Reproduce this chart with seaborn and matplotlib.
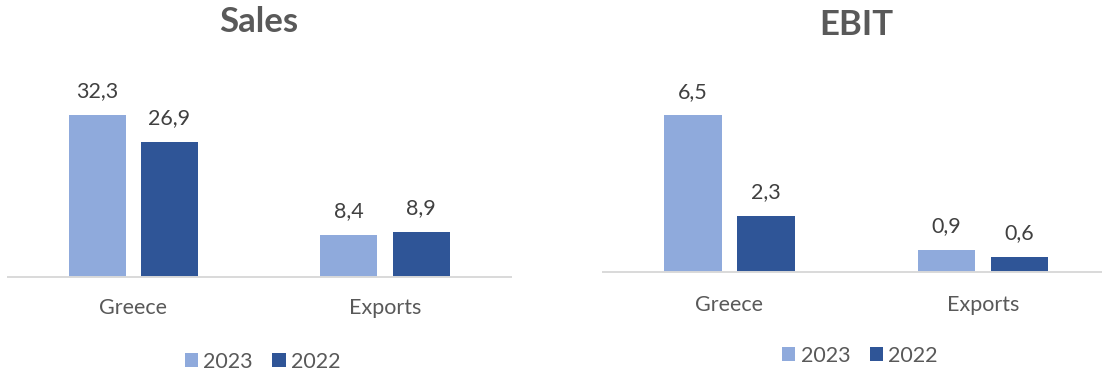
import matplotlib
matplotlib.use("Agg")
import matplotlib.pyplot as plt
import seaborn as sns
import pandas as pd

# ---- data ----
categories = ["Greece", "Exports"]
years = ["2023", "2022"]
sales_2023 = [32.3, 8.4]
sales_2022 = [26.9, 8.9]
ebit_2023 = [6.5, 0.9]
ebit_2022 = [2.3, 0.6]
titles = ["Sales", "EBIT"]

LIGHT = "#8FAADC"
DARK = "#2F5597"
TXT = "#595959"
LBL = "#404040"

sns.set_theme(style="white")
plt.rcParams["font.family"] = ["Lato", "DejaVu Sans"]

W, H = 1102, 373
fig = plt.figure(figsize=(W / 100, H / 100), dpi=100)


def make_df(v23, v22):
    rows = []
    for c, a, b in zip(categories, v23, v22):
        rows.append({"cat": c, "year": years[0], "val": a})
        rows.append({"cat": c, "year": years[1], "val": b})
    return pd.DataFrame(rows)


def panel(rect_px, ymax, v23, v22, title, title_xy, legend_xy, tick_pad):
    x0, x1, base, top = rect_px
    ax = fig.add_axes([x0 / W, (H - base) / H, (x1 - x0) / W, (base - top) / H])
    df = make_df(v23, v22)
    sns.barplot(data=df, x="cat", y="val", hue="year", order=categories,
                hue_order=years, palette=[LIGHT, DARK], width=0.573, gap=0.209,
                linewidth=0, saturation=1, ax=ax, errorbar=None)
    ax.set_xlim(-0.5, 1.5)
    ax.set_ylim(0, ymax)
    for cont in ax.containers:
        labels = [f"{b.get_height():.1f}".replace(".", ",") for b in cont]
        ax.bar_label(cont, labels=labels, padding=10, fontsize=15.5, color=LBL)
    for s in ["top", "left", "right"]:
        ax.spines[s].set_visible(False)
    ax.spines["bottom"].set_color("#D9D9D9")
    ax.spines["bottom"].set_linewidth(1.4)
    ax.set_yticks([])
    ax.set_xlabel("")
    ax.set_ylabel("")
    ax.tick_params(axis="x", length=0, pad=tick_pad, labelsize=15.5, labelcolor=TXT)
    handles, labs = ax.get_legend_handles_labels()
    ax.legend(handles, labs, loc="center", bbox_to_anchor=(legend_xy[0] / W, 1 - legend_xy[1] / H),
              bbox_transform=fig.transFigure, ncol=2, frameon=False, fontsize=15.5,
              handlelength=0.62, handleheight=0.62, handletextpad=0.25,
              columnspacing=0.9, labelcolor=TXT, borderpad=0)
    fig.text(title_xy[0] / W, 1 - title_xy[1] / H, title, ha="center", va="center",
             fontsize=25, fontweight="bold", color=TXT)
    return ax


panel((7.75, 510.75, 276.7, 60), 216.7 / 5.006, sales_2023, sales_2022,
      titles[0], (258.5, 22.5), (262.5, 361.5), 15)
panel((602.75, 1109.75, 271.5, 60), 211.5 / 24.0, ebit_2023, ebit_2022,
      titles[1], (856.5, 25), (860, 356), 17)

fig.savefig("out.png", dpi=100)
